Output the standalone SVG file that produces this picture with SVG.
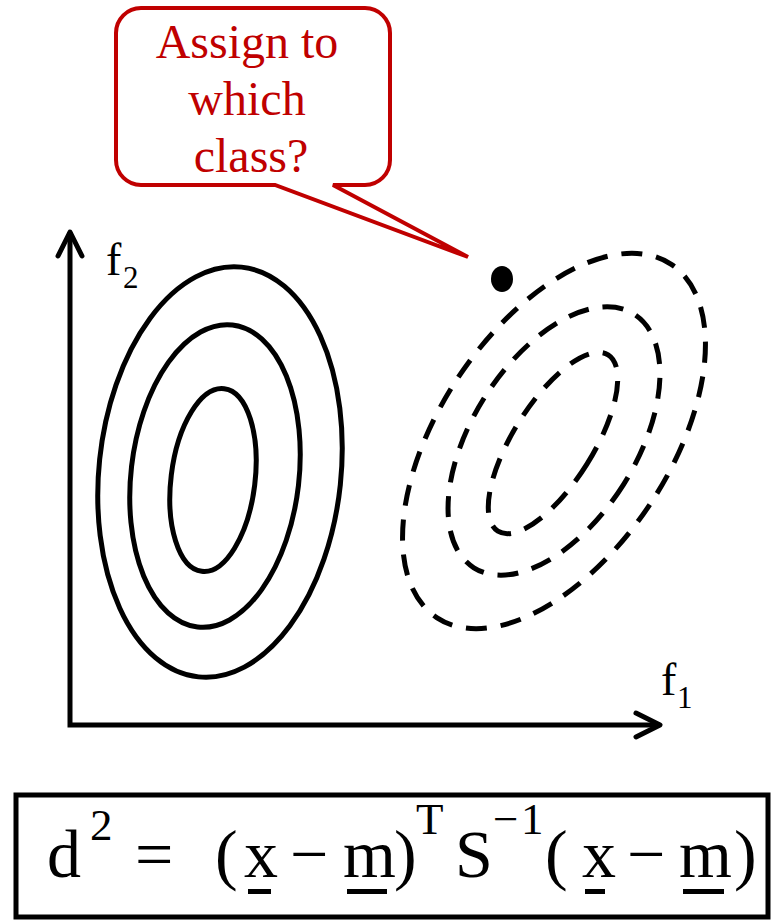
<svg xmlns="http://www.w3.org/2000/svg" width="775" height="920" viewBox="0 0 775 920">
<style>
.serif{font-family:"Liberation Serif","Times New Roman",serif;}
.solid{fill:none;stroke:#000;stroke-width:5;}
.dash{fill:none;stroke:#000;stroke-width:5;stroke-dasharray:21 14;}
.axis{fill:none;stroke:#000;stroke-width:5;stroke-linejoin:miter;}
.red{fill:#c00000;}
.eq{font-size:68px;fill:#000;}
.sup{font-size:45px;}
.lbl{font-size:46px;fill:#000;}
.sub{font-size:31px;}
</style>
<defs>
<marker id="arr" markerUnits="userSpaceOnUse" markerWidth="60" markerHeight="60" viewBox="-40 -30 60 60" refX="0" refY="0" orient="auto-start-reverse" overflow="visible">
<path d="M-24,-12 L0,0 L-24,12" fill="none" stroke="#000" stroke-width="5" stroke-linecap="round" stroke-linejoin="round"/>
</marker>
</defs>
<rect width="775" height="920" fill="#fff"/>

<g id="connectors">
<path id="axes" class="axis" d="M70,232 L70,725 L660,725" marker-start="url(#arr)" marker-end="url(#arr)"/>
</g>

<g id="axis-labels" class="serif">
<text class="lbl" x="106" y="275">f<tspan class="sub" x="123" y="288">2</tspan></text>
<text class="lbl" x="661" y="695">f<tspan class="sub" x="677" y="708">1</tspan></text>
</g>

<g id="class1">
<ellipse class="solid" cx="220" cy="472" rx="121" ry="206" transform="rotate(6 220 472)"/>
<ellipse class="solid" cx="215" cy="476" rx="84" ry="152" transform="rotate(6.6 215 476)"/>
<ellipse class="solid" cx="213" cy="480" rx="42" ry="92" transform="rotate(7 213 480)"/>
</g>

<g id="class2">
<ellipse class="dash" cx="554" cy="441" rx="115" ry="212" transform="rotate(33.6 554 441)"/>
<ellipse class="dash" cx="554" cy="441" rx="82" ry="150" transform="rotate(32.3 554 441)"/>
<ellipse class="dash" cx="553" cy="443" rx="40" ry="104" transform="rotate(32 553 443)"/>
</g>

<g id="point">
<ellipse cx="502" cy="279" rx="11" ry="13" fill="#000"/>
</g>

<g id="callout">
<path d="M141,8 H365 A25,25 0 0 1 390,33 V160 A25,25 0 0 1 365,185 H333 L468,257 L275,185 H141 A25,25 0 0 1 116,160 V33 A25,25 0 0 1 141,8 Z" fill="#fff" stroke="#c00000" stroke-width="4" stroke-linejoin="miter"/>
<text class="serif red" font-size="48" text-anchor="middle">
<tspan x="253" y="58">Assign to</tspan>
<tspan x="253" y="115">which</tspan>
<tspan x="251" y="172">class?</tspan>
</text>
</g>

<g id="formula">
<rect x="16" y="795" width="752" height="122" fill="none" stroke="#000" stroke-width="5"/>
<text class="serif eq" y="877"><tspan x="47">d</tspan><tspan class="sup" x="90" y="840">2</tspan><tspan x="135" y="877">=</tspan><tspan x="215">(</tspan><tspan x="244">x</tspan><tspan x="290">−</tspan><tspan x="343">m</tspan><tspan x="394">)</tspan><tspan class="sup" x="416" y="834">T</tspan><tspan x="455" y="877">S</tspan><tspan class="sup" x="493" y="834">−</tspan><tspan class="sup" x="521" y="834">1</tspan><tspan x="545" y="877">(</tspan><tspan x="582">x</tspan><tspan x="627">−</tspan><tspan x="679">m</tspan><tspan x="734">)</tspan></text>
<rect x="248" y="889" width="23" height="5" fill="#000"/>
<rect x="347" y="889" width="40" height="5" fill="#000"/>
<rect x="585" y="889" width="20" height="5" fill="#000"/>
<rect x="683" y="889" width="41" height="5" fill="#000"/>
</g>
</svg>
